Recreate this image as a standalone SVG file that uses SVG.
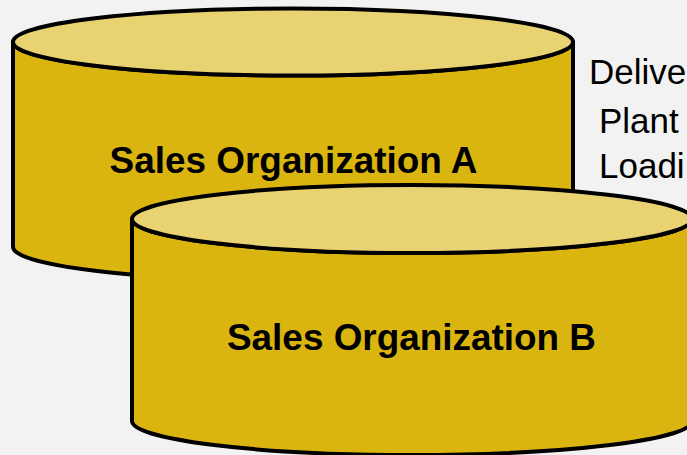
<svg xmlns="http://www.w3.org/2000/svg" width="687" height="455" viewBox="0 0 687 455">
  <style>
    .body { fill: #DAB40F; stroke: #000; stroke-width: 4; stroke-linejoin: round; }
    .top { fill: #E8D272; stroke: #000; stroke-width: 4; }
    .lbl { font-family: "Liberation Sans", Arial, sans-serif; font-weight: bold; font-size: 36px; fill: #000; text-anchor: middle; }
    .side { font-family: "Liberation Sans", Arial, sans-serif; font-size: 35px; fill: #000; }
  </style>
  <rect x="0" y="0" width="687" height="455" fill="#F2F2F2"/>
  <g id="salesOrgA">
    <path class="body" d="M13,42 V247 A280,33.5 0 0 0 573,247 V42 A280,33.5 0 0 1 13,42 Z"/>
    <ellipse class="top" cx="293" cy="42" rx="280" ry="33.5"/>
    <text class="lbl" x="293.5" y="173" textLength="368" lengthAdjust="spacingAndGlyphs">Sales Organization A</text>
  </g>
  <g id="sideText">
    <text class="side" x="589" y="84">Delive</text>
    <text class="side" x="599" y="133">Plant</text>
    <text class="side" x="599" y="178">Loadi</text>
  </g>
  <g id="salesOrgB">
    <path class="body" d="M132,219 V421 A280,34 0 0 0 692,421 V219 A280,34 0 0 1 132,219 Z"/>
    <ellipse class="top" cx="412" cy="219" rx="280" ry="34"/>
    <text class="lbl" x="411.5" y="350" textLength="369" lengthAdjust="spacingAndGlyphs">Sales Organization B</text>
  </g>
  <g id="connectors"/>
</svg>
